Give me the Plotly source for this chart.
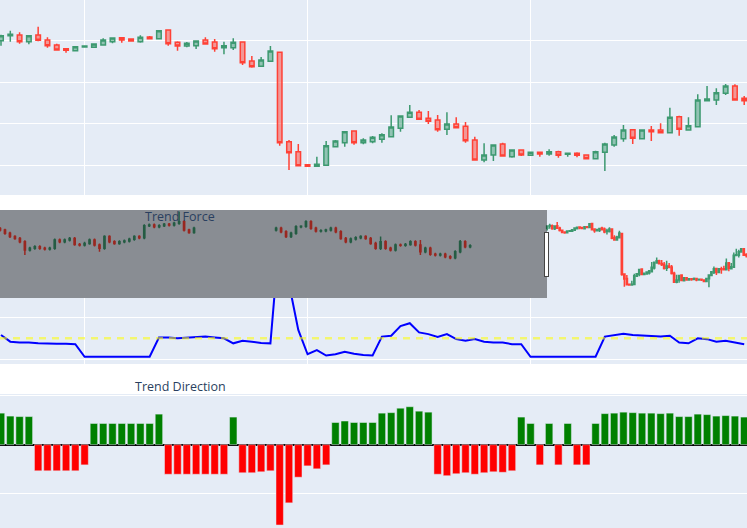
import plotly.graph_objects as go
from plotly.subplots import make_subplots

# ---------------- earlier history (only visible inside the range slider) -------------
hist_a_x = list(range(0, 80, 2))
hist_a_open = [98.02, 97.88, 97.52, 97.17, 96.98, 96.63, 95.74, 95.93, 96.10, 95.93,
               95.85, 95.93, 96.81, 96.63, 96.81, 96.98, 96.34, 96.27, 96.45, 96.81,
               96.27, 95.93, 97.17, 96.63, 96.45, 96.63, 96.70, 96.88, 97.17, 97.05,
               98.33, 98.40, 98.23, 98.33, 98.48, 98.40, 98.58, 98.76, 97.88, 97.62]
hist_a_high = [98.18, 98.00, 97.68, 97.32, 97.14, 96.79, 96.08, 96.26, 96.26, 96.08,
               96.08, 96.97, 96.97, 96.97, 97.14, 97.14, 96.50, 96.61, 96.97, 96.97,
               96.43, 97.32, 97.32, 96.79, 96.79, 96.86, 97.04, 97.32, 97.32, 98.49,
               98.56, 98.56, 98.49, 98.63, 98.63, 98.74, 99.83, 98.92, 98.00, 98.21]
hist_a_low = [97.72, 97.36, 97.01, 96.83, 96.47, 95.22, 95.59, 95.77, 95.77, 95.70,
              95.70, 95.77, 96.47, 96.47, 96.65, 96.19, 96.12, 96.12, 96.30, 96.12,
              95.57, 95.77, 96.47, 96.30, 96.30, 96.47, 96.54, 96.72, 96.90, 96.90,
              98.18, 98.07, 98.07, 98.18, 98.25, 98.25, 98.42, 97.72, 97.47, 97.47]
hist_a_close = [97.88, 97.52, 97.17, 96.98, 96.63, 95.74, 95.93, 96.10, 95.93, 95.85,
                95.93, 96.81, 96.63, 96.81, 96.98, 96.34, 96.27, 96.45, 96.81, 96.27,
                95.93, 97.17, 96.63, 96.45, 96.63, 96.70, 96.88, 97.17, 97.05, 98.33,
                98.40, 98.23, 98.33, 98.48, 98.40, 98.58, 98.76, 97.88, 97.62, 98.05]

hist_b_x = list(range(111, 191, 2))
hist_b_open = [97.86, 98.05, 97.69, 97.17, 97.52, 98.23, 98.26, 98.76, 98.05, 97.77,
               97.80, 97.88, 98.05, 97.69, 96.98, 96.63, 96.91, 97.05, 97.17, 96.98,
               96.45, 95.93, 96.63, 95.93, 95.74, 96.28, 96.25, 96.34, 96.63, 96.28,
               95.57, 95.93, 95.29, 95.22, 95.29, 95.03, 94.93, 95.57, 96.63, 96.10]
hist_b_high = [98.21, 98.21, 97.85, 97.68, 98.39, 98.39, 98.92, 98.92, 98.21, 97.95,
               98.00, 98.21, 98.21, 97.85, 97.14, 97.07, 97.21, 97.32, 97.32, 97.14,
               96.61, 97.17, 96.79, 96.08, 96.44, 96.44, 96.50, 96.79, 96.79, 96.81,
               96.08, 96.08, 95.44, 95.44, 95.44, 95.19, 95.73, 96.81, 96.79, 96.37]
hist_b_low = [97.70, 97.54, 97.01, 97.01, 97.36, 98.07, 98.10, 97.89, 97.61, 97.61,
              97.64, 97.72, 97.54, 96.83, 96.47, 96.47, 96.75, 96.90, 96.83, 96.30,
              95.77, 95.74, 95.77, 95.59, 95.59, 96.08, 96.09, 96.19, 96.12, 95.22,
              95.41, 95.13, 95.06, 95.06, 94.88, 94.77, 94.77, 95.41, 95.94, 95.94]
hist_b_close = [98.05, 97.69, 97.17, 97.52, 98.23, 98.26, 98.76, 98.05, 97.77, 97.80,
                97.88, 98.05, 97.69, 96.98, 96.63, 96.91, 97.05, 97.17, 96.98, 96.45,
                95.93, 96.63, 95.93, 95.74, 96.28, 96.25, 96.34, 96.63, 96.28, 95.57,
                95.93, 95.29, 95.22, 95.29, 95.03, 94.93, 95.57, 96.63, 96.10, 96.21]

# ---------------- visible period -------------------------------------------------------
main_x = list(range(220, 301))
main_open = [98.048, 98.288, 98.32, 98.0, 98.32, 98.08, 97.84, 97.664, 97.568, 97.744,
             97.728, 97.84, 98.0, 98.192, 98.128, 98.0, 98.224, 98.144, 98.56, 97.968,
             97.792, 97.808, 98.08, 97.984, 97.712, 97.712, 97.984, 97.072, 96.816, 97.056,
             97.488, 93.2, 92.72, 92.096, 92.016, 92.064, 92.96, 93.152, 93.712, 93.152,
             93.2, 93.312, 93.44, 93.84, 94.368, 94.608, 94.32, 94.24, 93.792, 94.048,
             93.936, 93.28, 92.32, 92.56, 93.088, 92.48, 92.8, 92.544, 92.688, 92.608,
             92.72, 92.592, 92.64, 92.56, 92.384, 92.688, 93.04, 93.344, 93.776, 93.344,
             93.76, 93.76, 93.632, 94.4, 93.76, 93.92, 95.168, 95.2, 95.52, 95.872, 95.28]
main_high = [98.336, 98.528, 98.448, 98.288, 98.72, 98.208, 97.904, 97.696, 97.776, 97.824,
             97.904, 98.16, 98.208, 98.224, 98.144, 98.304, 98.272, 98.56, 98.576, 98.016,
             97.984, 98.048, 98.208, 98.128, 98.0, 98.16, 98.016, 97.312, 97.264, 97.792,
             97.52, 93.28, 93.088, 92.128, 92.48, 93.232, 93.28, 93.712, 93.728, 93.36,
             93.472, 93.6, 94.464, 94.464, 94.96, 94.72, 94.672, 94.48, 94.608, 94.368,
             94.144, 93.44, 93.12, 93.072, 93.152, 92.832, 92.832, 92.688, 92.688, 92.832,
             92.768, 92.64, 92.688, 92.56, 92.768, 93.152, 93.52, 94.0, 93.776, 93.76,
             93.952, 94.08, 94.832, 94.448, 94.368, 95.472, 95.872, 95.76, 95.968, 95.952, 95.392]
main_low = [97.808, 98.0, 97.904, 97.872, 98.016, 97.712, 97.568, 97.472, 97.536, 97.712,
            97.712, 97.808, 97.92, 97.952, 98.016, 97.952, 98.112, 98.128, 97.808, 97.568,
            97.728, 97.648, 97.872, 97.52, 97.392, 97.6, 96.88, 96.752, 96.8, 97.024,
            93.008, 91.84, 92.016, 91.984, 91.984, 92.048, 92.928, 92.96, 93.056, 93.072,
            93.12, 93.152, 93.424, 93.68, 94.352, 94.24, 94.048, 93.68, 93.52, 93.84,
            93.152, 92.288, 92.208, 92.272, 92.48, 92.432, 92.512, 92.544, 92.48, 92.528,
            92.432, 92.48, 92.448, 92.384, 92.352, 91.792, 92.96, 93.2, 93.088, 93.344,
            93.232, 93.632, 93.6, 93.488, 93.728, 93.92, 95.136, 94.96, 95.44, 95.2, 94.96]
main_close = [98.288, 98.352, 98.0, 98.288, 98.064, 97.808, 97.6, 97.584, 97.76, 97.792,
              97.888, 98.08, 98.176, 98.08, 98.032, 98.208, 98.144, 98.528, 97.904, 97.792,
              97.92, 98.032, 97.888, 97.664, 97.808, 97.968, 96.992, 96.8, 97.12, 97.552,
              93.152, 92.672, 92.048, 92.016, 92.112, 93.008, 93.232, 93.68, 93.152, 93.28,
              93.408, 93.536, 93.904, 94.432, 94.608, 94.272, 94.176, 93.776, 94.048, 93.872,
              93.248, 92.32, 92.56, 93.04, 92.512, 92.8, 92.56, 92.688, 92.608, 92.72,
              92.544, 92.64, 92.544, 92.384, 92.72, 93.088, 93.424, 93.76, 93.36, 93.76,
              93.68, 93.632, 94.368, 93.792, 93.968, 95.2, 95.248, 95.552, 95.872, 95.2, 95.168]

trend_force = [0.58, 0.42, 0.40, 0.40, 0.38, 0.37, 0.37, 0.37, 0.36, 0.06,
               0.06, 0.06, 0.06, 0.06, 0.06, 0.06, 0.06, 0.52, 0.52, 0.50,
               0.51, 0.52, 0.54, 0.52, 0.50, 0.38, 0.44, 0.42, 0.39, 0.38,
               3.00, 1.80, 0.70, 0.12, 0.22, 0.09, 0.12, 0.18, 0.13, 0.10,
               0.09, 0.54, 0.56, 0.79, 0.86, 0.64, 0.60, 0.53, 0.60, 0.48,
               0.44, 0.48, 0.42, 0.40, 0.40, 0.36, 0.36, 0.06, 0.06, 0.06,
               0.06, 0.06, 0.06, 0.06, 0.06, 0.54, 0.58, 0.61, 0.58, 0.57,
               0.56, 0.54, 0.56, 0.40, 0.38, 0.50, 0.48, 0.42, 0.44, 0.40, 0.36]
force_threshold = 0.5

trend_direction = [0.64, 0.58, 0.57, 0.57, -0.53, -0.53, -0.53, -0.53, -0.53, -0.41,
                   0.43, 0.43, 0.43, 0.43, 0.43, 0.43, 0.43, 0.62, -0.60, -0.60,
                   -0.60, -0.60, -0.60, -0.60, -0.60, 0.56, -0.57, -0.57, -0.55, -0.53,
                   -1.63, -1.18, -0.66, -0.43, -0.49, -0.41, 0.45, 0.48, 0.45, 0.45,
                   0.45, 0.64, 0.65, 0.74, 0.77, 0.68, 0.66, -0.60, -0.63, -0.59,
                   -0.57, -0.60, -0.57, -0.55, -0.56, -0.53, 0.56, 0.43, -0.41, 0.43,
                   -0.41, 0.43, -0.41, -0.41, 0.43, 0.63, 0.64, 0.66, 0.65, 0.64,
                   0.64, 0.63, 0.64, 0.57, 0.57, 0.62, 0.61, 0.58, 0.59, 0.58, 0.56]

subplot_titles = ["Trend Force", "Trend Direction"]

# ---------------- figure ----------------------------------------------------------------
fig = make_subplots(rows=3, cols=1, shared_xaxes=True)

fig.add_trace(go.Candlestick(
    x=hist_a_x + hist_b_x + main_x,
    open=hist_a_open + hist_b_open + main_open,
    high=hist_a_high + hist_b_high + main_high,
    low=hist_a_low + hist_b_low + main_low,
    close=hist_a_close + hist_b_close + main_close,
    increasing_line_width=1.5, decreasing_line_width=1.5,
    name="Price"), row=1, col=1)

fig.add_trace(go.Scatter(x=main_x, y=trend_force, mode="lines",
                         line=dict(color="blue", width=2), name="Trend Force"),
              row=2, col=1)
fig.add_hline(y=force_threshold, row=2, col=1,
              line=dict(color="rgba(255,255,0,0.55)", width=2.5, dash="7px,6px"))

bar_colors = ["green" if v >= 0 else "red" for v in trend_direction]
fig.add_trace(go.Bar(x=main_x, y=trend_direction, marker_color=bar_colors,
                     name="Trend Direction"), row=3, col=1)

H = 528.0
fig.update_layout(
    width=747, height=528,
    margin=dict(l=0, r=0, t=0, b=0, autoexpand=False),
    showlegend=False,
    template="plotly",
    yaxis=dict(domain=[1 - 195 / H, 1], range=[90.64, 100], tick0=92.05, dtick=2,
               showticklabels=False, zeroline=False),
    yaxis2=dict(domain=[1 - 364 / H, 1 - 225 / H], range=[-0.112, 3.198], tick0=0, dtick=1,
                showticklabels=False, zeroline=False),
    yaxis3=dict(domain=[0, 1 - 394 / H], range=[-1.69, 1.028], tick0=0, dtick=1,
                showticklabels=False, zeroline=True, zerolinecolor="black", zerolinewidth=1.5),
)
fig.update_xaxes(range=[219.892, 300.30], tick0=229, dtick=24, showticklabels=False)
fig.update_layout(xaxis=dict(rangeslider=dict(
    visible=True, thickness=88 / H, range=[0, 300.30],
    yaxis=dict(rangemode="match"))))

title_y = [1 - 227 / H, 1 - 397 / H]
for txt, yy in zip(subplot_titles, title_y):
    fig.add_annotation(text=txt, x=180 / 747, y=yy, xref="paper", yref="paper",
                       xanchor="center", yanchor="bottom", showarrow=False,
                       font=dict(size=12.5, color="#2a3f5f"))

# page without body margin; the slider's right grabber lies at the cut-off edge;
# redraw the titles so they sit above the range slider
post = ("document.body.style.margin='0px';"
        "var st=document.createElement('style');"
        "st.innerHTML='.rangeslider-grabber-max{display:none}';"
        "document.head.appendChild(st);"
        "var gd=document.getElementById('{plot_id}');"
        "Plotly.relayout(gd,{'annotations[0].font.size':12.5,"
        "'annotations[1].font.size':12.5});")
fig.write_html("out.html", post_script=post, config={"displayModeBar": False})
